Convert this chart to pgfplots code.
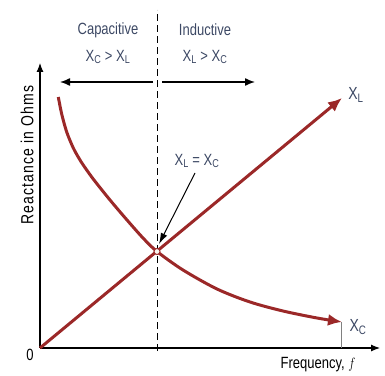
\documentclass[border=0pt]{standalone}
\usepackage{fontspec}
\setmainfont{Liberation Sans}
\usepackage{graphicx}
\usepackage{pgfplots}
\pgfplotsset{compat=1.18}
\usetikzlibrary{arrows.meta}
\definecolor{curve}{RGB}{155,40,40}
\definecolor{txt}{RGB}{60,72,100}
\newcommand\lbl[1]{\scalebox{1}[1.25]{#1}}

\begin{document}
\begin{tikzpicture}
\begin{axis}[
  scale only axis,
  width=340pt, height=285pt,
  xmin=0, xmax=340, ymin=0, ymax=285,
  axis lines=left,
  axis line style={line width=1.1pt, -{Latex[length=9pt,width=7pt]}},
  xtick=\empty, ytick=\empty,
  clip=false,
]
% region divider
\draw[black, line width=1pt, dash pattern=on 7pt off 4pt] (axis cs:117,-3) -- (axis cs:117,338);
\draw[black, line width=1.4pt, -{Latex[length=10pt,width=8pt]}] (axis cs:113,266) -- (axis cs:20,266);
\draw[black, line width=1.4pt, -{Latex[length=10pt,width=8pt]}] (axis cs:122,266) -- (axis cs:215,266);

\node[txt, font=\fontsize{13}{15}\selectfont] at (axis cs:68,318) {\lbl{Capacitive}};
\node[txt, font=\fontsize{13}{15}\selectfont] at (axis cs:68,291) {\lbl{X\textsubscript{C} > X\textsubscript{L}}};
\node[txt, font=\fontsize{13}{15}\selectfont] at (axis cs:165,318) {\lbl{Inductive}};
\node[txt, font=\fontsize{13}{15}\selectfont] at (axis cs:165,291) {\lbl{X\textsubscript{L} > X\textsubscript{C}}};

% thin marker under X_C arrow
\draw[gray, line width=0.5pt] (axis cs:301,0) -- (axis cs:301,26);

% X_L
\addplot[curve, line width=3pt, -{Latex[length=14pt,width=12pt]}] coordinates {(0,0) (302,250)};
% X_C
\addplot[curve, line width=3pt, smooth, -{Latex[length=14pt,width=12pt]}] coordinates {
  (18.3,251) (21.7,234) (26.7,216) (33.3,200) (40,188) (46,179) (54,168)
  (70,148) (87,128) (103,110) (117,96.5)
  (143,78) (177,59) (210,46) (243,37) (277,30) (302,26)};

% resonance point
\addplot[only marks, mark=*, mark size=3pt, mark options={fill=white!92!brown, draw=curve, line width=1pt}] coordinates {(117,96.5)};
\draw[black, line width=1pt, -{Latex[length=11pt,width=7pt]}] (axis cs:155,175) -- (axis cs:119,104);
\node[txt, font=\fontsize{13}{15}\selectfont] at (axis cs:157,187) {\lbl{X\textsubscript{L} = X\textsubscript{C}}};

\node[txt, font=\fontsize{14}{16}\selectfont] at (axis cs:316,253) {\lbl{X\textsubscript{L}}};
\node[txt, font=\fontsize{14}{16}\selectfont] at (axis cs:318,21) {\lbl{X\textsubscript{C}}};

\node[black, font=\fontsize{13}{15}\selectfont] at (axis cs:-10,-7) {\lbl{0}};
\node[black, font=\fontsize{13}{15}\selectfont] at (axis cs:278,-17) {\lbl{Frequency, $f$}};
\node[black, rotate=90, font=\fontsize{14}{16}\selectfont\addfontfeatures{LetterSpace=8}] at (axis cs:-13,193) {\lbl{Reactance in Ohms}};

\coordinate (bb1) at (axis cs:-40,-27);
\coordinate (bb2) at (axis cs:345,348);
\end{axis}
\pgfresetboundingbox
\path[use as bounding box] (bb1) rectangle (bb2);
\end{tikzpicture}
\end{document}
